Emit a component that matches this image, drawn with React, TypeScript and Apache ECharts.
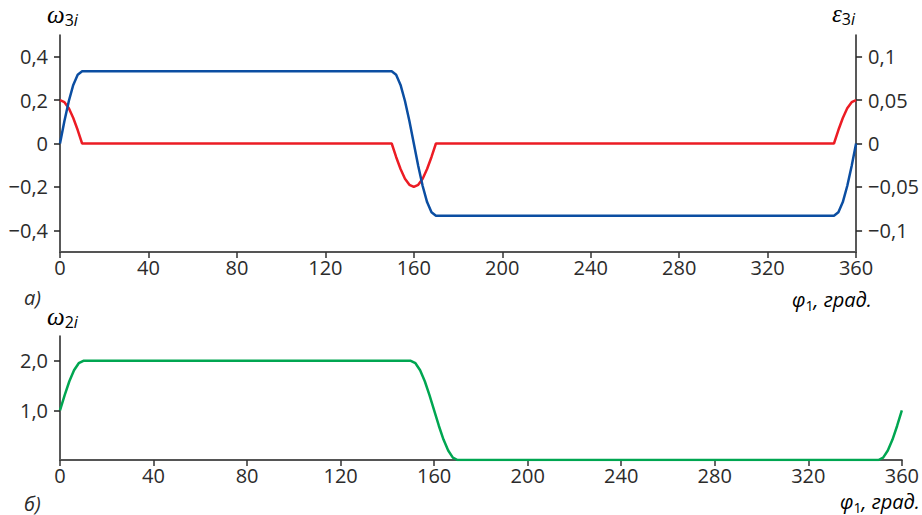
import React, { useEffect, useRef } from 'react';
import * as echarts from 'echarts';

// φ1, degrees (shared abscissa of all curves)
const phi = [0, 2, 4, 6, 8, 10, 150, 152, 154, 156, 158, 160, 162, 164, 166, 168, 170, 350, 352, 354, 356, 358, 360];
// ω3i (left axis, top chart, blue)
const omega3 = [0, 0.104, 0.196, 0.27, 0.317, 0.333, 0.333, 0.317, 0.27, 0.196, 0.104, 0, -0.104, -0.196, -0.27, -0.317, -0.333, -0.333, -0.317, -0.27, -0.196, -0.104, 0];
// ε3i (right axis, top chart, red)
const eps3 = [0.05, 0.0476, 0.0405, 0.0294, 0.0155, 0, 0, -0.0155, -0.0294, -0.0405, -0.0476, -0.05, -0.0476, -0.0405, -0.0294, -0.0155, 0, 0, 0.0155, 0.0294, 0.0405, 0.0476, 0.05];
// ω2i (bottom chart, green)
const omega2 = [1, 1.309, 1.588, 1.809, 1.951, 2, 2, 1.951, 1.809, 1.588, 1.309, 1, 0.691, 0.412, 0.191, 0.049, 0, 0, 0.049, 0.191, 0.412, 0.691, 1];

const omega3Ticks = [-0.4, -0.2, 0, 0.2, 0.4];
const eps3Ticks = [-0.1, -0.05, 0, 0.05, 0.1];
const omega2Ticks = [1, 2];

const fmt = (v: number) => String(v).replace('.', ',').replace('-', '\u2212');
const fmt1 = (v: number) => v.toFixed(1).replace('.', ',');

export default function App() {
  const ref = useRef<HTMLDivElement>(null);
  useEffect(() => {
    const chart = echarts.init(ref.current!, null, { renderer: 'svg' });
    const FONT = '"Open Sans", sans-serif';
    const SERIF = '"Liberation Serif", serif';
    const TXT = '#2b2b2b';
    const FS = 20;

    const xAxis = (gridIndex: number) => ({
      type: 'value',
      gridIndex,
      min: 0,
      max: 360,
      interval: 40,
      axisLine: { show: true, onZero: false, lineStyle: { color: '#555', width: 2 } },
      axisTick: { show: true, length: 6, lineStyle: { color: '#333', width: 1.5 } },
      axisLabel: { color: TXT, fontSize: FS, fontFamily: FONT, margin: 5 },
      splitLine: { show: false },
    });

    const yAxis = (gridIndex: number, min: number, max: number, ticks: number[], position: string, f: (v: number) => string) => ({
      type: 'value',
      gridIndex,
      min,
      max,
      position,
      axisLine: { show: true, lineStyle: { color: '#222', width: 1.5 } },
      axisTick: { show: true, length: 6, customValues: ticks, lineStyle: { color: '#222', width: 1.5 } },
      axisLabel: { customValues: ticks, formatter: f, color: TXT, fontSize: FS, fontFamily: FONT, margin: 12 },
      splitLine: { show: false },
    });

    const symRich = {
      w: { fontFamily: SERIF, fontStyle: 'italic', fontSize: 25, lineHeight: 28, color: TXT },
      s: { fontFamily: FONT, fontSize: 16, lineHeight: 17, verticalAlign: 'bottom', color: TXT },
      si: { fontFamily: FONT, fontStyle: 'italic', fontSize: 16, lineHeight: 17, verticalAlign: 'bottom', color: TXT },
    };

    const phiRich = {
      p: { fontFamily: FONT, fontStyle: 'italic', fontSize: 20, lineHeight: 26, color: TXT },
      s: { fontFamily: FONT, fontSize: 14, lineHeight: 15, verticalAlign: 'bottom', color: TXT },
      t: { fontFamily: FONT, fontStyle: 'italic', fontSize: 20, lineHeight: 26, color: TXT },
    };

    const option = {
      animation: false,
      backgroundColor: '#ffffff',
      grid: [
        { left: 60, right: 63, top: 35, height: 217 },
        { left: 60, right: 15, top: 336, height: 124 },
      ],
      xAxis: [xAxis(0), xAxis(1)],
      yAxis: [
        yAxis(0, -0.5, 0.5, omega3Ticks, 'left', fmt),
        yAxis(0, -0.125, 0.125, eps3Ticks, 'right', fmt),
        yAxis(1, 0, 2.5, omega2Ticks, 'left', fmt1),
      ],
      series: [
        {
          type: 'line', xAxisIndex: 0, yAxisIndex: 1, showSymbol: false,
          lineStyle: { color: '#ec1c24', width: 2.5 },
          data: phi.map((p, i) => [p, eps3[i]]),
        },
        {
          type: 'line', xAxisIndex: 0, yAxisIndex: 0, showSymbol: false,
          lineStyle: { color: '#0b4ea2', width: 2.5 },
          data: phi.map((p, i) => [p, omega3[i]]),
        },
        {
          type: 'line', xAxisIndex: 1, yAxisIndex: 2, showSymbol: false,
          lineStyle: { color: '#00a651', width: 2.5 },
          data: phi.map((p, i) => [p, omega2[i]]),
        },
      ],
      graphic: [
        { type: 'text', x: 47, y: 14, style: { text: '{w|ω}{s|3}{si|i}', rich: symRich, verticalAlign: 'middle' } },
        { type: 'text', x: 832, y: 13, style: { text: '{w|ε}{s|3}{si|i}', rich: symRich, verticalAlign: 'middle' } },
        { type: 'text', x: 47, y: 316, style: { text: '{w|ω}{s|2}{si|i}', rich: symRich, verticalAlign: 'middle' } },
        { type: 'text', x: 24, y: 297, style: { text: 'а)', fontFamily: FONT, fontStyle: 'italic', fontSize: 20, fill: TXT, verticalAlign: 'middle' } },
        { type: 'text', x: 24, y: 503, style: { text: 'б)', fontFamily: FONT, fontStyle: 'italic', fontSize: 20, fill: TXT, verticalAlign: 'middle' } },
        { type: 'text', x: 792, y: 299, style: { text: '{p|φ}{s|1}{t|, град.}', rich: phiRich, verticalAlign: 'middle' } },
        { type: 'text', x: 840, y: 501, style: { text: '{p|φ}{s|1}{t|, град.}', rich: phiRich, verticalAlign: 'middle' } },
      ],
    };
    chart.setOption(option as any);
    return () => chart.dispose();
  }, []);
  return <div ref={ref} style={{ position: 'absolute', left: 0, top: 0, width: 922, height: 515 }} />;
}
